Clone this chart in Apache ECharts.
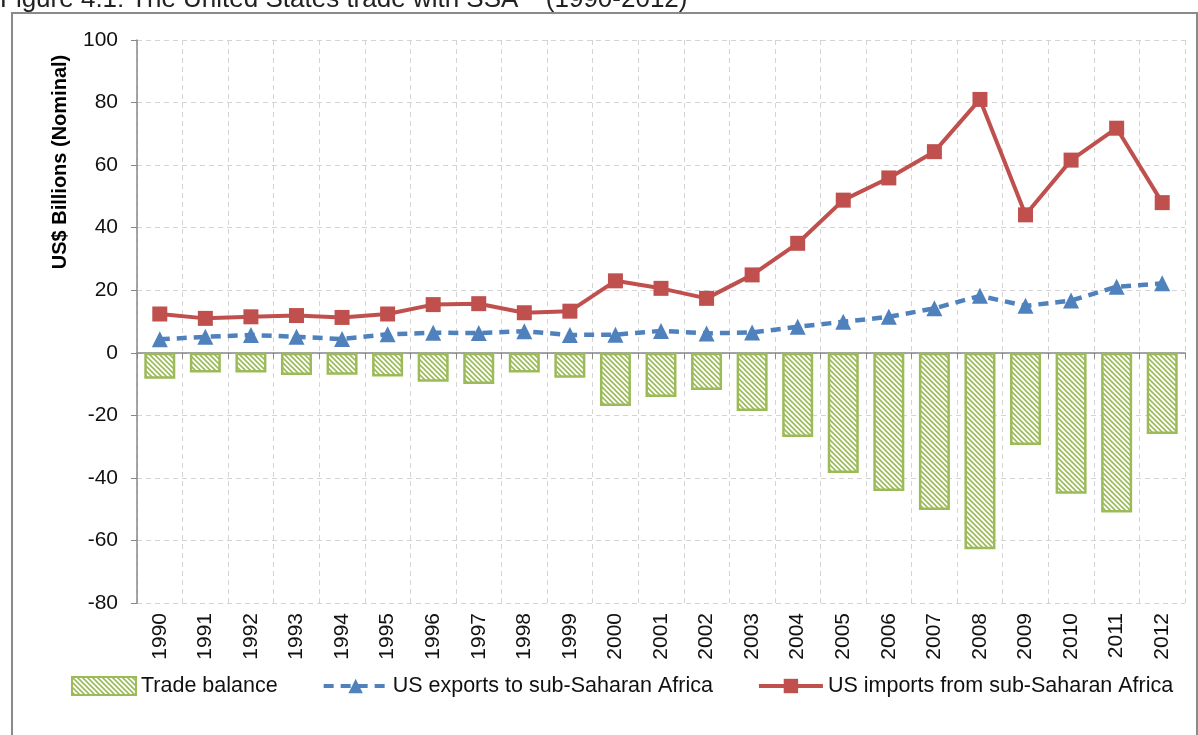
<!DOCTYPE html>
<html>
<head>
<meta charset="utf-8">
<script src="https://cdn.jsdelivr.net/npm/echarts@6/dist/echarts.min.js"></script>
<style>
  html, body { margin: 0; padding: 0; background: #fff; }
  #wrap { position: relative; width: 1198px; height: 735px; overflow: hidden; }
  #chart { position: absolute; left: 0; top: 0; width: 1198px; height: 735px; }
  #fig { position: absolute; left: 0; top: -17px; font-family: 'Liberation Sans', Arial, sans-serif;
         font-size: 26px; color: #222; white-space: nowrap; }
</style>
</head>
<body>
<div id="wrap">
  <div id="chart"></div>
  <div id="fig">Figure 4.1: The United States trade with SSA** (1990-2012)</div>
</div>
<script>
// 年份
const years = ['1990','1991','1992','1993','1994','1995','1996','1997','1998','1999','2000','2001',
  '2002','2003','2004','2005','2006','2007','2008','2009','2010','2011','2012'];
// 贸易差额（柱）
const tradeBalance = [-8.3, -6.3, -6.3, -7.1, -7.0, -7.6, -9.3, -10.0, -6.3, -8.0, -17.0, -14.1,
  -11.9, -18.6, -26.9, -38.4, -44.2, -50.3, -62.8, -29.5, -45.1, -51.1, -26.0];
// 美国对撒哈拉以南非洲出口
const usExports = [4.3, 5.1, 5.7, 5.1, 4.4, 5.9, 6.4, 6.3, 6.9, 5.7, 5.8, 7.0,
  6.2, 6.5, 8.3, 9.9, 11.5, 14.2, 18.2, 15.0, 16.7, 21.1, 22.2];
// 美国自撒哈拉以南非洲进口
const usImports = [12.4, 11.0, 11.5, 11.9, 11.3, 12.4, 15.4, 15.7, 12.8, 13.3, 23.0, 20.6,
  17.4, 24.9, 35.0, 48.8, 55.9, 64.3, 81.0, 44.1, 61.6, 71.8, 48.0];
const yTicks = { min: -80, max: 100, interval: 20 };

const GREEN = '#9BBB59', BLUE = '#4F81BD', RED = '#C0504D';
const FONT = "'Liberation Sans', Arial, sans-serif";

// 斜线填充图案
function hatch() {
  const c = document.createElement('canvas');
  c.width = 5; c.height = 5;
  const g = c.getContext('2d');
  g.fillStyle = '#fff';
  g.fillRect(0, 0, 5, 5);
  g.strokeStyle = GREEN;
  g.lineWidth = 1.6;
  g.beginPath();
  g.moveTo(-1, -1); g.lineTo(6, 6);
  g.moveTo(-1, 4); g.lineTo(1, 6);
  g.moveTo(4, -1); g.lineTo(6, 1);
  g.stroke();
  return c;
}
const pattern = { image: hatch(), repeat: 'repeat' };

const chart = echarts.init(document.getElementById('chart'));
chart.setOption({
  animation: false,
  textStyle: { fontFamily: FONT },
  grid: { left: 137, right: 13, top: 40, bottom: 132 },
  graphic: [
    { type: 'rect', shape: { x: 12, y: 13, width: 1185, height: 740 }, silent: true,
      style: { fill: 'none', stroke: '#8a8a8a', lineWidth: 2 } },
    { type: 'text', x: 60, y: 162, rotation: Math.PI / 2, silent: true,
      style: { text: 'US$ Billions (Nominal)', font: "bold 20px " + FONT, fill: '#000',
        align: 'center', verticalAlign: 'middle' } }
  ],
  legend: {
    bottom: 33, left: 66, itemGap: 44, itemWidth: 64, itemHeight: 18,
    textStyle: { fontSize: 21.5, color: '#111', fontFamily: FONT },
    lineStyle: { width: 4 },
    data: [
      { name: 'Trade balance', icon: 'rect' },
      { name: 'US exports to sub-Saharan Africa' },
      { name: 'US imports from sub-Saharan Africa' }
    ]
  },
  xAxis: [
    {
      type: 'category', data: years, position: 'bottom',
      axisLine: { show: false, onZero: false }, axisTick: { show: false },
      axisLabel: { rotate: 90, fontSize: 21, color: '#111', margin: 10 },
      splitLine: { show: true, lineStyle: { color: '#d4d4d4', type: [5, 4] } }
    },
    {
      type: 'category', data: years, position: 'bottom',
      axisLine: { show: true, onZero: true, lineStyle: { color: '#888', width: 1.5 } },
      axisTick: { show: true, length: 6, lineStyle: { color: '#888' } },
      axisLabel: { show: false }, splitLine: { show: false }
    }
  ],
  yAxis: {
    type: 'value', min: yTicks.min, max: yTicks.max, interval: yTicks.interval,
    axisLine: { show: true, lineStyle: { color: '#888', width: 1.5 } },
    axisTick: { show: true, length: 6, lineStyle: { color: '#888' } },
    axisLabel: { fontSize: 21, color: '#111', margin: 19 },
    splitLine: { lineStyle: { color: '#d4d4d4', type: [5, 4] } }
  },
  series: [
    {
      name: 'Trade balance', type: 'bar', data: tradeBalance, barWidth: 31,
      itemStyle: { color: pattern, borderColor: GREEN, borderWidth: 2.5 }
    },
    {
      name: 'US exports to sub-Saharan Africa', type: 'line', data: usExports,
      symbol: 'triangle', symbolSize: 16,
      lineStyle: { color: BLUE, width: 4.5, type: [10, 7] },
      itemStyle: { color: BLUE }
    },
    {
      name: 'US imports from sub-Saharan Africa', type: 'line', data: usImports,
      symbol: 'rect', symbolSize: 15,
      lineStyle: { color: RED, width: 4 },
      itemStyle: { color: RED }
    }
  ]
});
</script>
</body>
</html>
